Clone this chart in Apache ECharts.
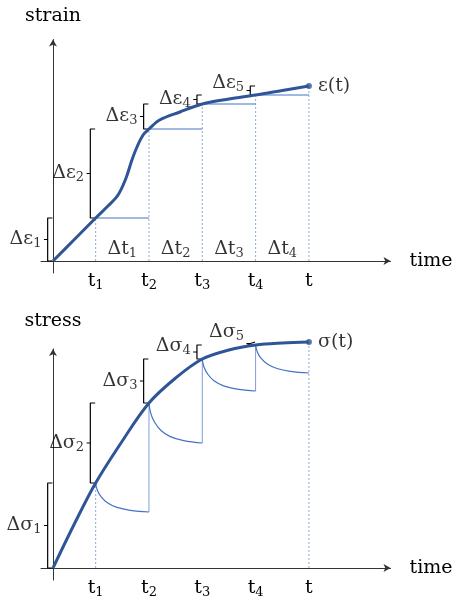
<!DOCTYPE html>
<html>
<head>
<meta charset="utf-8">
<script src="https://cdn.jsdelivr.net/npm/echarts@6/dist/echarts.min.js"></script>
<style>
html,body{margin:0;padding:0;background:#fff}
#main{width:457px;height:610px}
</style>
</head>
<body>
<div id="main"></div>
<script>
// time marks t1..t4, t
var times = [0, 0.8, 1.8, 2.8, 3.8, 4.8];
var timeNames = ['', 't|1', 't|2', 't|3', 't|4', 't'];

// strain at the time marks and the curve through them
var strainAtT = [0, 4.3, 13.2, 15.7, 16.6, 17.5];
var strainX = [0, 0.41, 0.8, 1.03, 1.22, 1.37, 1.48, 1.575, 1.69, 1.8, 2.0, 2.38, 2.8, 3.3, 3.8, 4.3, 4.8];
var strainY = [0, 2.2, 4.3, 5.5, 6.6, 8.3, 10.1, 11.4, 12.6, 13.2, 14.1, 14.9, 15.7, 16.2, 16.6, 17.05, 17.5];

// stress at the time marks and the curve through them
var stressAtT = [0, 8.5, 16.5, 20.9, 22.3, 22.6];
var stressX = [0, 0.4, 0.8, 1.3, 1.8, 2.3, 2.8, 3.3, 3.8, 4.3, 4.8];
var stressY = [0, 4.4, 8.5, 12.7, 16.5, 19.0, 20.9, 21.8, 22.3, 22.5, 22.6];

// relaxation after each step (fraction of the interval, stress)
var relaxSteps = [0, 0.03, 0.1, 0.22, 0.4, 0.65, 1];
var relax1 = [8.5, 7.8, 7.14, 6.53, 6.06, 5.77, 5.6];
var relax2 = [16.5, 15.54, 14.62, 13.78, 13.14, 12.74, 12.5];
var relax3 = [20.9, 20.13, 19.4, 18.72, 18.21, 17.89, 17.7];
var relax4 = [22.3, 21.63, 20.98, 20.4, 19.95, 19.67, 19.5];
var relaxAll = [relax1, relax2, relax3, relax4];

var strainLabels = ['Δε|1', 'Δε|2', 'Δε|3', 'Δε|4', 'Δε|5'];
var stressLabels = ['Δσ|1', 'Δσ|2', 'Δσ|3', 'Δσ|4', 'Δσ|5'];
var dtLabels = ['Δt|1', 'Δt|2', 'Δt|3', 'Δt|4'];
// small vertical nudges (px) so the upper labels clear the curve
var strainLabelDy = [0, 0, 0, 0, -7];
var stressLabelDy = [0, 0, 0, -6, -11];

var FONT = 'DejaVu Serif';
var MAIN = '#2f5597';
var THIN = '#4472c4';
var LIGHT = '#8eaadb';
var INK = '#000';

function rt(s) {
    var p = s.split('|');
    return p.length > 1 ? p[0] + '{s|' + p[1] + '}' : p[0];
}
var rich = {s: {fontSize: 13, fontFamily: FONT, color: INK, verticalAlign: 'bottom', lineHeight: 15}};
var lbl = {fontSize: 19, fontFamily: FONT, color: INK, lineHeight: 22, rich: rich};

function zip(xs, ys) {
    var out = [];
    for (let i = 0; i < xs.length; i++) out.push([xs[i], ys[i]]);
    return out;
}

function seg(g, data, color, width, type) {
    return {type: 'line', xAxisIndex: g, yAxisIndex: g, data: data, symbol: 'none', silent: true, clip: false,
        lineStyle: {color: color, width: width, type: type || 'solid'}, z: 2};
}

function bracket(g, x, lo, hi) {
    var mid = (lo + hi) / 2;
    return seg(g, [[x + 0.09, lo], [x, lo], [x, mid], [x - 0.07, mid], [x, mid], [x, hi], [x + 0.09, hi]], INK, 1.2);
}

function textPoints(g, pts, pos, dist) {
    return {type: 'scatter', xAxisIndex: g, yAxisIndex: g, data: pts, symbolSize: 1, silent: true, clip: false,
        itemStyle: {color: 'transparent'},
        label: Object.assign({show: true, position: pos, distance: dist, formatter: function (p) { return rt(p.name); }}, lbl)};
}

var series = [];

// ---- strain chart (grid 0)
for (let i = 1; i < times.length; i++) {
    series.push(seg(0, [[times[i], 0], [times[i], strainAtT[i]]], LIGHT, 1, [2, 2]));
}
for (let i = 1; i < times.length - 1; i++) {
    series.push(seg(0, [[times[i], strainAtT[i]], [times[i + 1], strainAtT[i]]], THIN, 1.2));
}
var bLab0 = [];
for (let i = 1; i < times.length; i++) {
    var bx = times[i - 1] - 0.1;
    series.push(bracket(0, bx, strainAtT[i - 1], strainAtT[i]));
    bLab0.push({value: [bx - 0.07, (strainAtT[i - 1] + strainAtT[i]) / 2], name: strainLabels[i - 1],
        label: {offset: [0, strainLabelDy[i - 1]]}});
}
var dtPts = [];
for (let i = 1; i < times.length - 1; i++) {
    dtPts.push({value: [(times[i] + times[i + 1]) / 2, 1.2], name: dtLabels[i - 1]});
}
series.push(textPoints(0, bLab0, 'left', 2));
series.push(textPoints(0, dtPts, 'inside', 0));
series.push({type: 'line', xAxisIndex: 0, yAxisIndex: 0, data: zip(strainX, strainY), smooth: 0.35,
    symbol: 'none', silent: true, clip: false, lineStyle: {color: MAIN, width: 3}, z: 5});
series.push({type: 'scatter', xAxisIndex: 0, yAxisIndex: 0, data: [[times[5], strainAtT[5]]], symbolSize: 6, silent: true,
    clip: false, itemStyle: {color: MAIN}, z: 6,
    label: Object.assign({show: true, position: 'right', distance: 6, formatter: 'ε(t)'}, lbl)});

// ---- stress chart (grid 1)
series.push(seg(1, [[times[1], 0], [times[1], stressAtT[1]]], LIGHT, 1, [2, 2]));
series.push(seg(1, [[times[5], 0], [times[5], stressAtT[5]]], LIGHT, 1, [2, 2]));
for (let i = 1; i < times.length - 1; i++) {
    var r = relaxAll[i - 1];
    var pts = [];
    for (let k = 0; k < relaxSteps.length; k++) {
        pts.push([times[i] + relaxSteps[k] * (times[i + 1] - times[i]), r[k]]);
    }
    series.push({type: 'line', xAxisIndex: 1, yAxisIndex: 1, data: pts, smooth: 0.4,
        symbol: 'none', silent: true, clip: false, lineStyle: {color: THIN, width: 1.2}, z: 3});
    if (i + 1 < times.length - 1) {
        series.push(seg(1, [[times[i + 1], r[r.length - 1]], [times[i + 1], stressAtT[i + 1]]], '#7d9ddb', 1));
    }
}
var bLab1 = [];
for (let i = 1; i < times.length; i++) {
    var bx1 = times[i - 1] - 0.1;
    series.push(bracket(1, bx1, stressAtT[i - 1], stressAtT[i]));
    bLab1.push({value: [bx1 - 0.07, (stressAtT[i - 1] + stressAtT[i]) / 2], name: stressLabels[i - 1],
        label: {offset: [0, stressLabelDy[i - 1]]}});
}
series.push(textPoints(1, bLab1, 'left', 2));
series.push({type: 'line', xAxisIndex: 1, yAxisIndex: 1, data: zip(stressX, stressY), smooth: 0.35,
    symbol: 'none', silent: true, clip: false, lineStyle: {color: MAIN, width: 3}, z: 5});
series.push({type: 'scatter', xAxisIndex: 1, yAxisIndex: 1, data: [[times[5], stressAtT[5]]], symbolSize: 6, silent: true,
    clip: false, itemStyle: {color: MAIN}, z: 6,
    label: Object.assign({show: true, position: 'right', distance: 6, formatter: 'σ(t)'}, lbl)});

function xAx(g) {
    return {
        type: 'value', gridIndex: g, min: -0.225, max: 6.33,
        name: 'time', nameLocation: 'end', nameGap: 19,
        nameTextStyle: {fontSize: 19, fontFamily: FONT, color: INK},
        axisLine: {onZero: true, symbol: ['none', 'arrow'], symbolSize: [6, 7], lineStyle: {color: '#333', width: 1}},
        axisTick: {show: false},
        splitLine: {show: false},
        axisLabel: Object.assign({
            customValues: times.slice(1), margin: -3,
            formatter: function (v) {
                var i = times.indexOf(v);
                return i > 0 ? rt(timeNames[i]) : '';
            }
        }, lbl)
    };
}
function yAx(g, min, max, name, gap) {
    return {
        type: 'value', gridIndex: g, min: min, max: max,
        name: name, nameLocation: 'end', nameGap: gap,
        nameTextStyle: {fontSize: 19, fontFamily: FONT, color: INK},
        axisLine: {show: true, onZero: true, symbol: ['none', 'arrow'], symbolSize: [6, 7], lineStyle: {color: '#333', width: 1}},
        axisTick: {show: false},
        axisLabel: {show: false},
        splitLine: {show: false}
    };
}

var myChart = echarts.init(document.getElementById('main'));
var option = {
    animation: false,
    backgroundColor: '#fff',
    textStyle: {fontFamily: FONT},
    grid: [
        {left: 41, right: 66.5, top: 39.5, bottom: 337, containLabel: false, outerBoundsMode: 'none'},
        {left: 41, right: 66.5, top: 349, bottom: 30, containLabel: false, outerBoundsMode: 'none'}
    ],
    xAxis: [xAx(0), xAx(1)],
    yAxis: [yAx(0, -1.2, 22.15, 'strain', 14), yAx(1, -1.2, 21.9, 'stress', 18)],
    series: series
};
myChart.setOption(option);
</script>
</body>
</html>
